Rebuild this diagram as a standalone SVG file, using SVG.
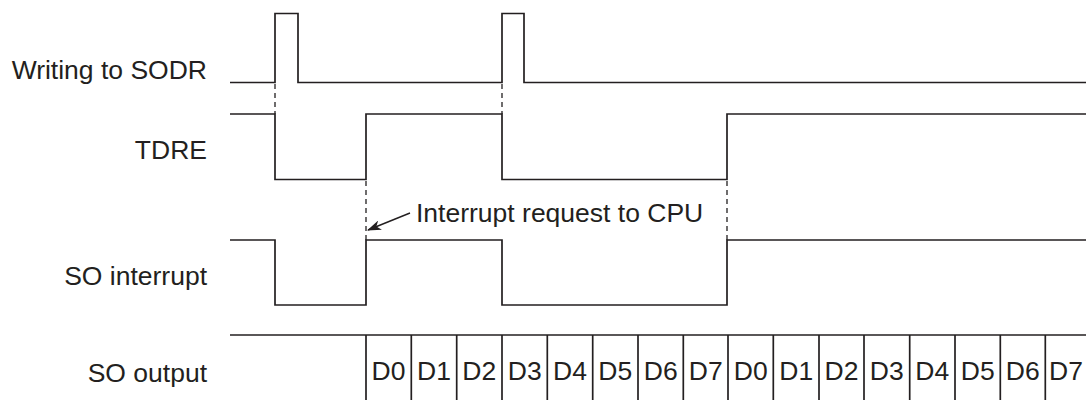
<svg xmlns="http://www.w3.org/2000/svg" width="1086" height="400" viewBox="0 0 1086 400">
<style>
.sig{fill:none;stroke:#231f20;stroke-width:1.7}
.dash{fill:none;stroke:#231f20;stroke-width:1.3;stroke-dasharray:5 4}
.lbl{font-family:"Liberation Sans",Arial,sans-serif;font-size:26.5px;fill:#231f20}
.r{text-anchor:end}
.c{text-anchor:middle}
</style>
<defs>
<marker id="ah" markerWidth="14" markerHeight="10" refX="13" refY="5" orient="auto" markerUnits="userSpaceOnUse">
<path d="M0,0 L14,5 L0,10 L4,5 Z" fill="#231f20"/>
</marker>
</defs>
<rect width="1086" height="400" fill="#ffffff"/>
<g id="labels">
<text class="lbl r" x="207" y="79">Writing to SODR</text>
<text class="lbl r" x="207" y="159">TDRE</text>
<text class="lbl r" x="207" y="285">SO interrupt</text>
<text class="lbl r" x="207" y="382">SO output</text>
</g>
<g id="writing-sodr">
<polyline class="sig" points="230,82.5 275,82.5 275,13.5 298,13.5 298,82.5 502,82.5 502,13.5 524,13.5 524,82.5 1086,82.5"/>
</g>
<g id="tdre">
<polyline class="sig" points="230,114 275,114 275,179.5 366,179.5 366,114 502,114 502,179.5 727,179.5 727,114 1086,114"/>
</g>
<g id="so-interrupt">
<polyline class="sig" points="230,240 275,240 275,305 366,305 366,240 502,240 502,305 727,305 727,240 1086,240"/>
</g>
<g id="so-output">
<line class="sig" x1="230" y1="335" x2="1086" y2="335"/>
<g class="sig">
<line x1="366" y1="335" x2="366" y2="400"/>
<line x1="411.3" y1="335" x2="411.3" y2="400"/>
<line x1="456.7" y1="335" x2="456.7" y2="400"/>
<line x1="502" y1="335" x2="502" y2="400"/>
<line x1="547.3" y1="335" x2="547.3" y2="400"/>
<line x1="592.7" y1="335" x2="592.7" y2="400"/>
<line x1="638" y1="335" x2="638" y2="400"/>
<line x1="683.3" y1="335" x2="683.3" y2="400"/>
<line x1="728" y1="335" x2="728" y2="400"/>
<line x1="773.3" y1="335" x2="773.3" y2="400"/>
<line x1="819" y1="335" x2="819" y2="400"/>
<line x1="864" y1="335" x2="864" y2="400"/>
<line x1="909.7" y1="335" x2="909.7" y2="400"/>
<line x1="955" y1="335" x2="955" y2="400"/>
<line x1="1000.3" y1="335" x2="1000.3" y2="400"/>
<line x1="1045.3" y1="335" x2="1045.3" y2="400"/>
</g>
<g class="lbl c">
<text x="388.5" y="380">D0</text>
<text x="434" y="380">D1</text>
<text x="479.3" y="380">D2</text>
<text x="524.7" y="380">D3</text>
<text x="570" y="380">D4</text>
<text x="615.3" y="380">D5</text>
<text x="660.7" y="380">D6</text>
<text x="705.7" y="380">D7</text>
<text x="750.7" y="380">D0</text>
<text x="796.2" y="380">D1</text>
<text x="841.5" y="380">D2</text>
<text x="886.8" y="380">D3</text>
<text x="932.3" y="380">D4</text>
<text x="977.7" y="380">D5</text>
<text x="1022.8" y="380">D6</text>
<text x="1066" y="380">D7</text>
</g>
</g>
<g id="connectors">
<line class="dash" x1="275" y1="84" x2="275" y2="114"/>
<line class="dash" x1="502" y1="84" x2="502" y2="114"/>
<line class="dash" x1="366" y1="181" x2="366" y2="240"/>
<line class="dash" x1="727" y1="181" x2="727" y2="240"/>
<line x1="410" y1="213" x2="368" y2="230" stroke="#231f20" stroke-width="1.4" marker-end="url(#ah)"/>
</g>
<g id="annotation">
<text class="lbl" x="416" y="222">Interrupt request to CPU</text>
</g>
</svg>
